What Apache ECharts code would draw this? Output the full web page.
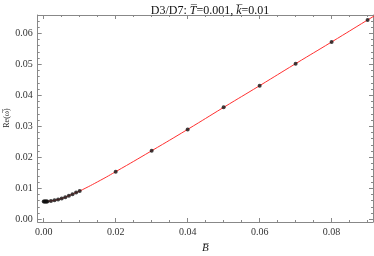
<!DOCTYPE html>
<html><head><meta charset="utf-8">
<script src="https://cdn.jsdelivr.net/npm/echarts@6/dist/echarts.min.js"></script>
<style>html,body{margin:0;padding:0;background:#fff}#c{width:374px;height:256px}</style>
</head><body><div id="c"></div>
<script>
// data
const bValues = [0, 0.0002, 0.0004, 0.0006, 0.0008, 0.001, 0.002, 0.003, 0.004, 0.005, 0.006, 0.007, 0.008, 0.009, 0.01, 0.02, 0.03, 0.04, 0.05, 0.06, 0.07, 0.08, 0.09];
const reOmega = [0.0057, 0.0057, 0.0057, 0.00572, 0.00573, 0.00575, 0.0059, 0.0061, 0.0064, 0.0067, 0.0071, 0.0076, 0.0081, 0.0086, 0.0091, 0.01535, 0.0221, 0.0290, 0.0361, 0.0431, 0.0502, 0.0572, 0.0643];
// fitted curve continues to the frame edge
const curveB = [0, 0.001, 0.002, 0.003, 0.004, 0.005, 0.006, 0.007, 0.008, 0.009, 0.01, 0.015, 0.02, 0.03, 0.04, 0.05, 0.06, 0.07, 0.08, 0.09, 0.095];
const curveRe = [0.0057, 0.00575, 0.0059, 0.0061, 0.0064, 0.0067, 0.0071, 0.0076, 0.0081, 0.0086, 0.0091, 0.0121, 0.01535, 0.0221, 0.0290, 0.0361, 0.0431, 0.0502, 0.0572, 0.0643, 0.0678];
const xMajorTicks = [0, 0.02, 0.04, 0.06, 0.08];
const xMinorTicks = [0.005, 0.01, 0.015, 0.025, 0.03, 0.035, 0.045, 0.05, 0.055, 0.065, 0.07, 0.075, 0.085, 0.09];
const yMajorTicks = [0, 0.01, 0.02, 0.03, 0.04, 0.05, 0.06];
const yMinorTicks = [0.002, 0.004, 0.006, 0.008, 0.012, 0.014, 0.016, 0.018, 0.022, 0.024, 0.026, 0.028, 0.032, 0.034, 0.036, 0.038, 0.042, 0.044, 0.046, 0.048, 0.052, 0.054, 0.056, 0.058, 0.062, 0.064];

const X_MIN = -0.00167, X_MAX = 0.0915, Y_MIN = -0.00088, Y_MAX = 0.0659;
const FONT = 'Liberation Serif';
const axisCol = '#888';

function xAx(pos, ticks, len, labels, line) {
  return {
    type: 'value', position: pos, min: X_MIN, max: X_MAX,
    axisLine: {show: line, onZero: false, lineStyle: {color: axisCol, width: 1}},
    splitLine: {show: false},
    axisTick: {show: true, inside: true, length: len, customValues: ticks, lineStyle: {color: axisCol}},
    axisLabel: {show: labels, customValues: ticks, color: '#333', fontFamily: FONT, fontSize: 10, margin: 5,
      formatter: v => v.toFixed(2)}
  };
}
function yAx(pos, ticks, len, labels, line) {
  return {
    type: 'value', position: pos, min: Y_MIN, max: Y_MAX,
    axisLine: {show: line, onZero: false, lineStyle: {color: axisCol, width: 1}},
    splitLine: {show: false},
    axisTick: {show: true, inside: true, length: len, customValues: ticks, lineStyle: {color: axisCol}},
    axisLabel: {show: labels, customValues: ticks, color: '#333', fontFamily: FONT, fontSize: 10, margin: 5,
      formatter: v => v.toFixed(2)}
  };
}

const chart = echarts.init(document.getElementById('c'), null, {renderer: 'canvas'});
chart.setOption({
  animation: false,
  backgroundColor: '#fff',
  title: {
    text: 'D3/D7: {i|T\u0305}=0.001, {i|k\u0305}=0.01',
    left: 205, top: 0, textAlign: 'center',
    textStyle: {fontFamily: FONT, fontSize: 12, fontWeight: 'normal', color: '#111',
      rich: {i: {fontFamily: FONT, fontSize: 12, fontStyle: 'italic', color: '#111'}}}
  },
  grid: {left: 37.7, right: 1, top: 15, bottom: 34, containLabel: false},
  xAxis: [
    xAx('bottom', xMajorTicks, 4, true, true),
    xAx('bottom', xMinorTicks, 2, false, false),
    xAx('top', xMajorTicks, 4, false, true),
    xAx('top', xMinorTicks, 2, false, false)
  ],
  yAxis: [
    yAx('left', yMajorTicks, 4, true, true),
    yAx('left', yMinorTicks, 2, false, false),
    yAx('right', yMajorTicks, 4, false, true),
    yAx('right', yMinorTicks, 2, false, false)
  ],
  graphic: [
    {type: 'text', left: 202, top: 243, style: {text: 'B\u0305', font: 'italic 11px "Liberation Serif"', fill: '#222'}},
    {type: 'text', x: 3, y: 118, rotation: Math.PI / 2, style: {text: 'Re(\u03C9\u0305)', font: '8px "Liberation Serif"', fill: '#222', align: 'center', verticalAlign: 'top'}}
  ],
  series: [
    {type: 'line', data: curveB.map((b, i) => [b, curveRe[i]]), smooth: true, symbol: 'none',
      lineStyle: {color: '#ff3030', width: 1}, clip: true, z: 2},
    {type: 'scatter', data: bValues.map((b, i) => [b, reOmega[i]]), symbolSize: 4,
      itemStyle: {color: '#111'}, clip: true, z: 3}
  ]
});
</script></body></html>
